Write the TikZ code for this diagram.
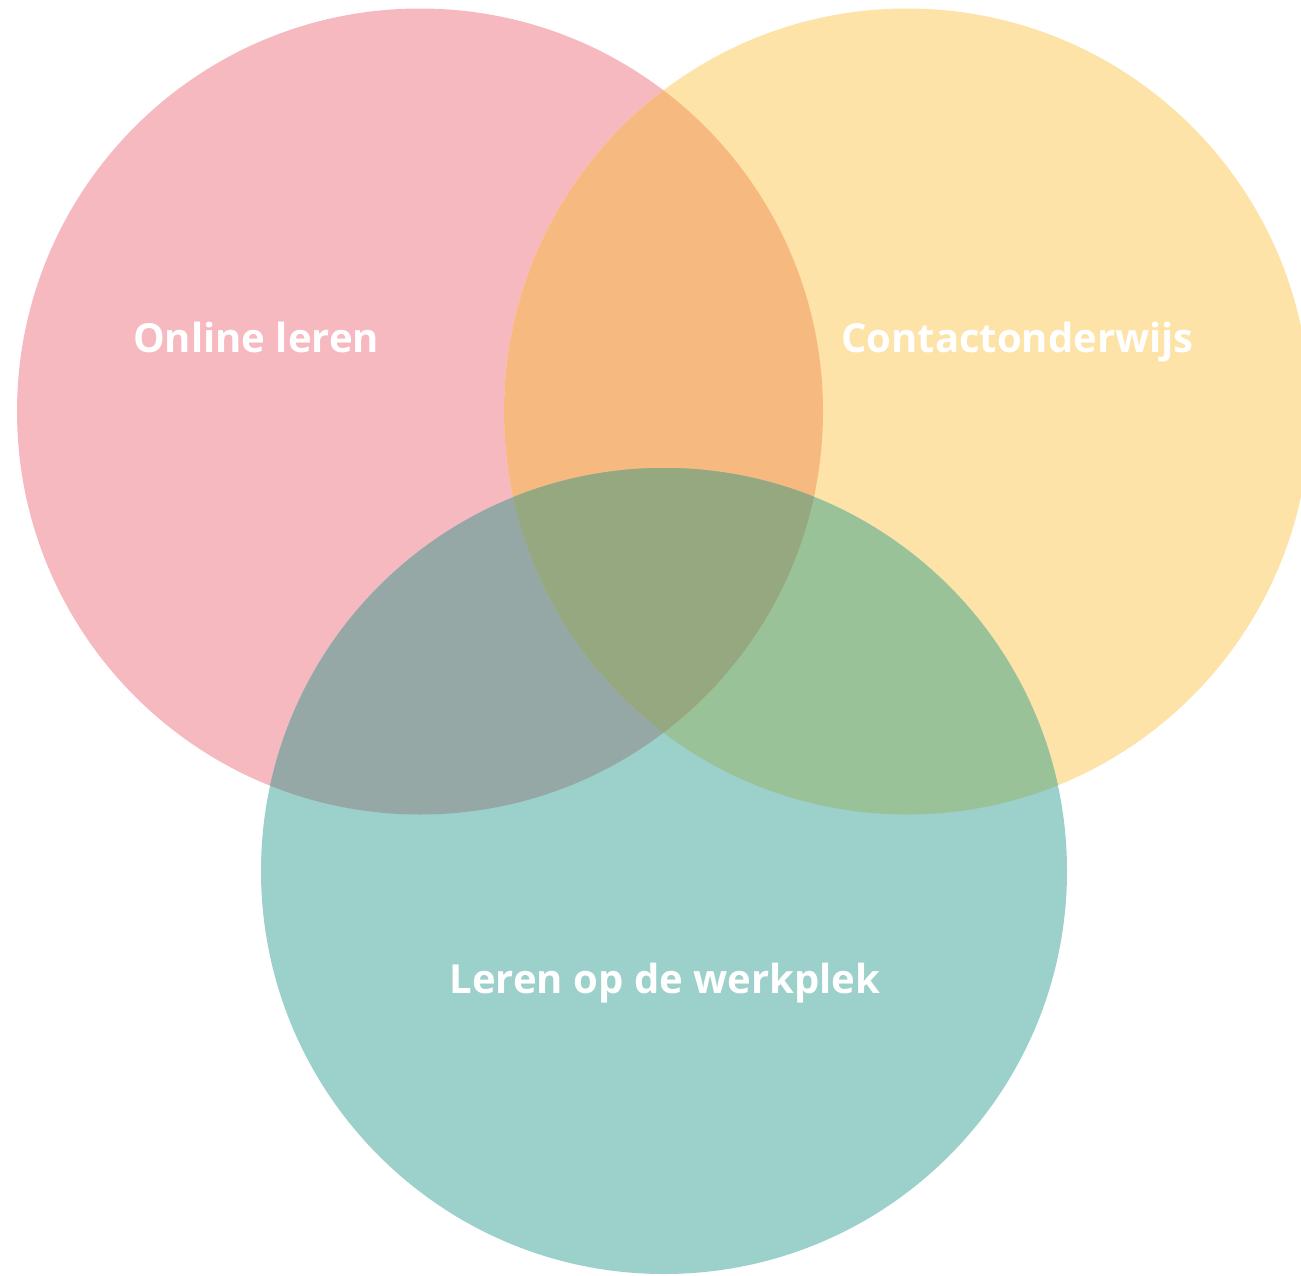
\documentclass[tikz,border=0pt]{standalone}
\usepackage{fontspec}
\setmainfont{Open Sans}
\definecolor{cred}{HTML}{F7B9C0}
\definecolor{cyel}{HTML}{FDE3A7}
\definecolor{cteal}{HTML}{9BD0CB}
\definecolor{cry}{HTML}{F6BA80}
\definecolor{crt}{HTML}{96A8A5}
\definecolor{cyt}{HTML}{9AC299}
\definecolor{call}{HTML}{96A87F}
\tikzset{
  lbl/.style={text=white, font=\fontsize{40}{48}\selectfont\bfseries, anchor=base, inner sep=0pt}
}
\begin{document}
\begin{tikzpicture}[x=1pt,y=-1pt]
\useasboundingbox (0,0) rectangle (1301,1275);
\clip (0,0) rectangle (1301,1275);
\def\R{403}
\coordinate (cr) at (420,411.5);
\coordinate (cy) at (907,411.5);
\coordinate (ct) at (664,871);
\fill[cred] (cr) circle (\R);
\fill[cyel] (cy) circle (\R);
\fill[cteal] (ct) circle (\R);
\begin{scope}
  \clip (cr) circle (\R);
  \fill[cry] (cy) circle (\R);
  \fill[crt] (ct) circle (\R);
\end{scope}
\begin{scope}
  \clip (cy) circle (\R);
  \fill[cyt] (ct) circle (\R);
\end{scope}
\begin{scope}
  \clip (cr) circle (\R);
  \clip (cy) circle (\R);
  \fill[call] (ct) circle (\R);
\end{scope}
\node[lbl] (online) at (256,352) {Online leren};
\node[lbl] (contact) at (1017.5,352) {Contactonderwijs};
\node[lbl] (werk) at (665,993) {Leren op de werkplek};
\end{tikzpicture}
\end{document}
